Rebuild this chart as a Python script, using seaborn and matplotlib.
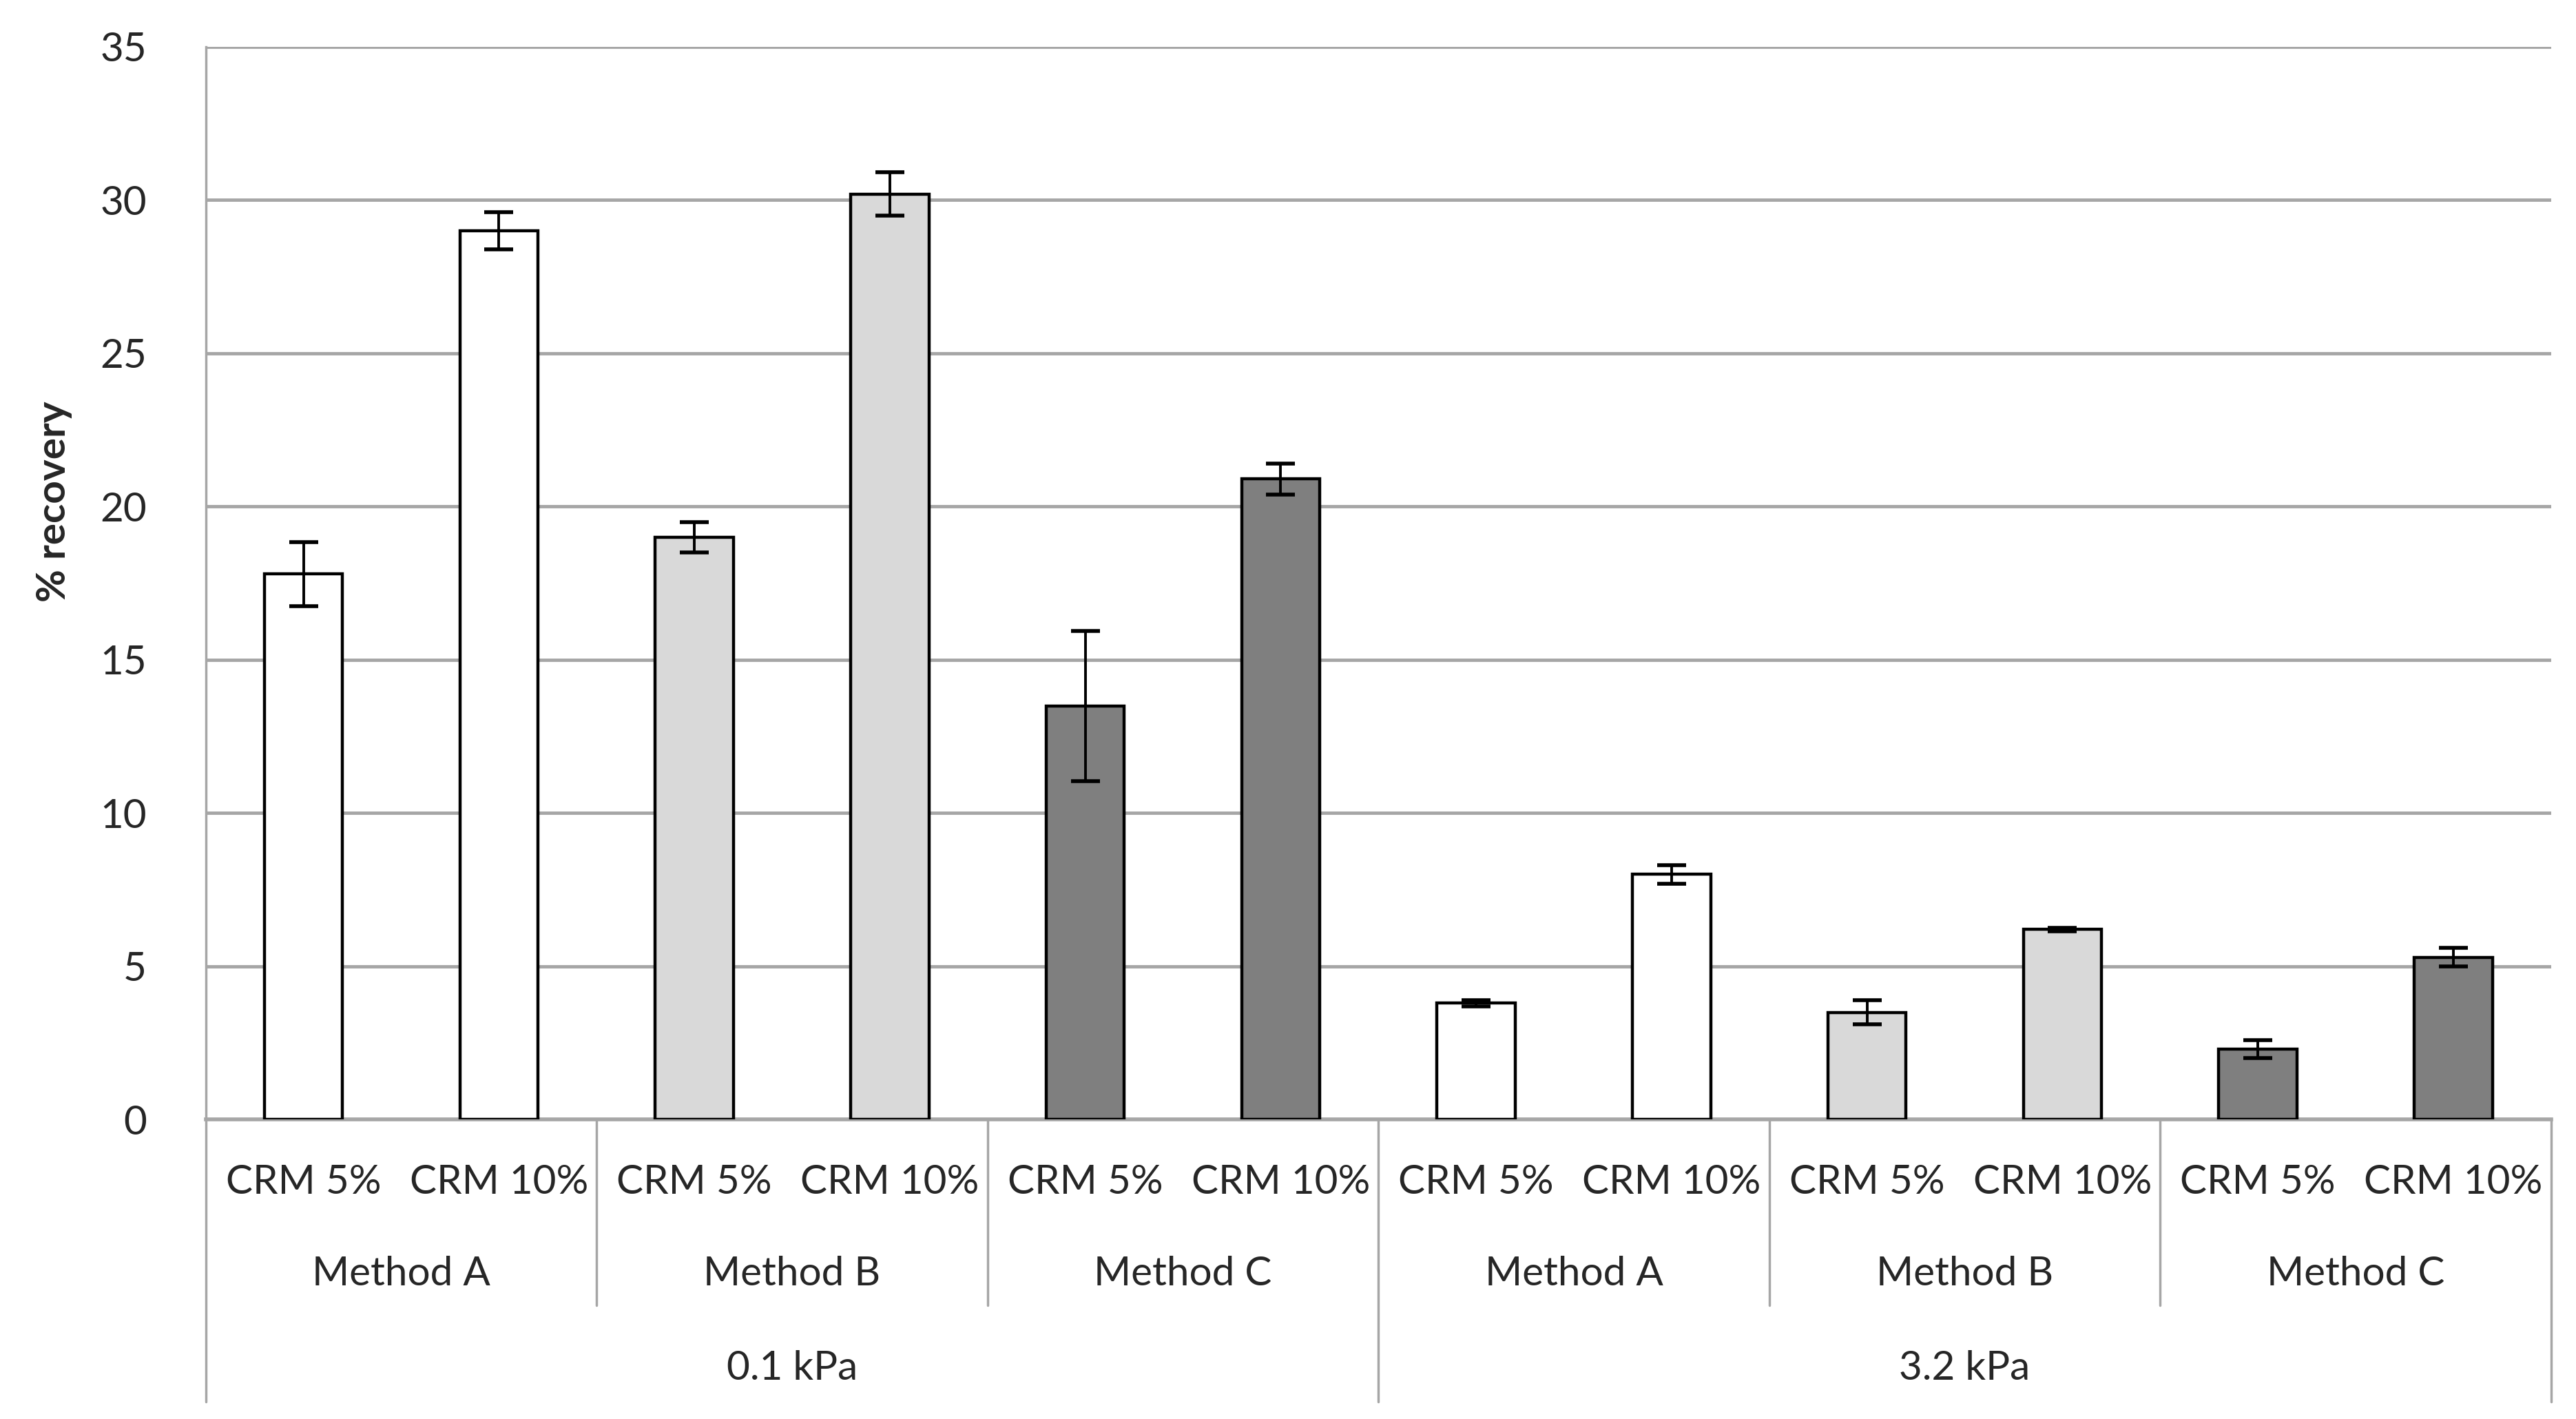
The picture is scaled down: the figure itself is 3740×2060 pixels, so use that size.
import numpy as np
import pandas as pd
import matplotlib
matplotlib.use("Agg")
import matplotlib.pyplot as plt
import matplotlib.transforms as mtransforms
import seaborn as sns

pressures = ["0.1 kPa", "3.2 kPa"]
methods = ["Method A", "Method B", "Method C"]
crm_levels = ["CRM 5%", "CRM 10%"]
recovery = [17.8, 29.0, 19.0, 30.2, 13.5, 20.9,
            3.8, 8.0, 3.5, 6.2, 2.3, 5.3]
errors = [1.05, 0.6, 0.5, 0.7, 2.45, 0.5,
          0.1, 0.3, 0.4, 0.05, 0.3, 0.3]
method_colors = {"Method A": "#ffffff", "Method B": "#d9d9d9", "Method C": "#7f7f7f"}

rows = []
for p in pressures:
    for m in methods:
        for c in crm_levels:
            rows.append({"pressure": p, "method": m, "crm": c,
                         "slot": f"{p}|{m}|{c}"})
df = pd.DataFrame(rows)
df["recovery"] = recovery
df["err"] = errors

sns.set_theme(style="white")
plt.rcParams["font.family"] = ["Lato", "DejaVu Sans"]

FS = 42

fig = plt.figure(figsize=(37.4, 20.6), dpi=100)
ax = fig.add_axes([0.0799, 0.211, 0.9104, 0.756])

sns.barplot(data=df, x="slot", y="recovery", hue="method", palette=method_colors,
            dodge=False, width=0.4, edgecolor="black", linewidth=3.2,
            legend=False, ax=ax, errorbar=None, zorder=3)

xpos = np.arange(len(df))
ax.errorbar(xpos, df["recovery"], yerr=df["err"], fmt="none", ecolor="black",
            elinewidth=2.8, capsize=15, capthick=4, zorder=4)

ax.set_xlim(-0.5, len(df) - 0.5)
ax.set_ylim(0, 35)
ax.set_yticks(np.arange(0, 36, 5))
ax.yaxis.grid(True, color="#a6a6a6", linewidth=3.5, zorder=0)
ax.set_axisbelow(True)
ax.tick_params(axis="y", length=0, pad=62, labelsize=FS)
ax.set_xticks([])
ax.set_xlabel("")
ax.set_ylabel("% recovery", fontsize=FS, fontweight="bold")
ax.yaxis.set_label_coords(-0.057, 0.576)

for s in ["top", "right"]:
    ax.spines[s].set_visible(False)
ax.spines["left"].set_color("#a6a6a6")
ax.spines["left"].set_linewidth(2.5)
ax.spines["bottom"].set_color("#a6a6a6")
ax.spines["bottom"].set_linewidth(4)

trans = mtransforms.blended_transform_factory(ax.transData, ax.transAxes)
line_kw = dict(color="#a6a6a6", linewidth=2.5, clip_on=False, transform=trans)

# CRM row
for i, c in enumerate(df["crm"]):
    ax.text(i, -0.0587, c, transform=trans, ha="center", va="center", fontsize=FS)

# method row
n_m = len(crm_levels)
for k in range(len(pressures) * len(methods)):
    center = k * n_m + (n_m - 1) / 2
    ax.text(center, -0.1437, df["method"].iloc[k * n_m], transform=trans,
            ha="center", va="center", fontsize=FS)
    b = k * n_m - 0.5
    if k % len(methods) != 0:
        ax.plot([b, b], [0, -0.173], **line_kw)

# pressure row
n_p = n_m * len(methods)
for j, p in enumerate(pressures):
    center = j * n_p + (n_p - 1) / 2
    ax.text(center, -0.232, p, transform=trans, ha="center", va="center", fontsize=FS)
for j in range(len(pressures) + 1):
    b = j * n_p - 0.5
    ax.plot([b, b], [0, -0.263], **line_kw)

fig.savefig("out.png", dpi=100, facecolor="white")
